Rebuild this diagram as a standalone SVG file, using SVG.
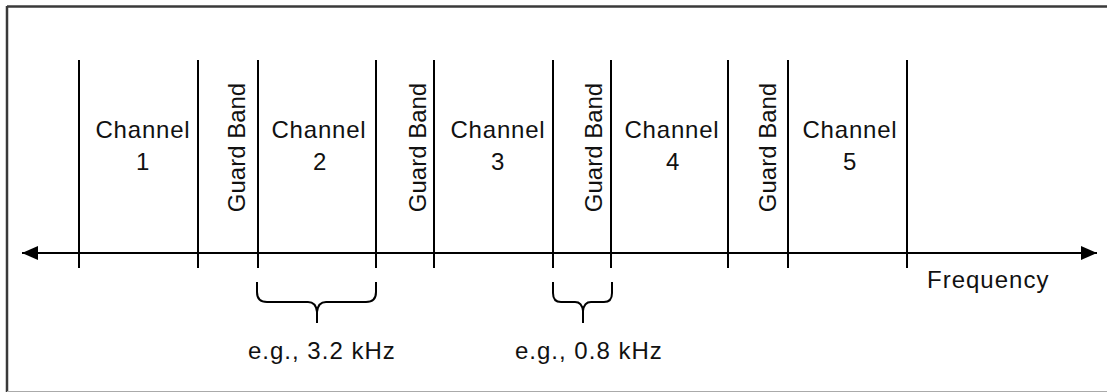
<svg xmlns="http://www.w3.org/2000/svg" width="1107" height="392" viewBox="0 0 1107 392">
<defs>
<style>
.ln{stroke:#000;stroke-width:2;fill:none}
.t{font-family:"Liberation Sans",Arial,sans-serif;font-size:24px;fill:#111}
.ch{text-anchor:middle;letter-spacing:0.8px}
.gb{text-anchor:middle}
.lab{letter-spacing:1px}
</style>
<marker id="ah" viewBox="0 0 16 14" refX="16" refY="7" markerWidth="16" markerHeight="14" markerUnits="userSpaceOnUse" orient="auto-start-reverse">
<path d="M0,0 L16,7 L0,14 Z" fill="#000"/>
</marker>
</defs>
<rect x="0" y="0" width="1107" height="392" fill="#fff"/>
<g id="frame">
<line x1="7" y1="6.5" x2="1107" y2="6.5" stroke="#3a3a3a" stroke-width="2.5"/>
<line x1="7" y1="6" x2="7" y2="392" stroke="#3a3a3a" stroke-width="2.5"/>
<line x1="7" y1="391.5" x2="1107" y2="391.5" stroke="#aaa" stroke-width="1"/>
</g>
<g id="connectors">
<line id="axis" class="ln" x1="22" y1="253" x2="1097" y2="253" marker-start="url(#ah)" marker-end="url(#ah)"/>
<g id="ticks">
<line class="ln" x1="79" y1="60" x2="79" y2="268"/>
<line class="ln" x1="198" y1="60" x2="198" y2="268"/>
<line class="ln" x1="258" y1="60" x2="258" y2="268"/>
<line class="ln" x1="376" y1="60" x2="376" y2="268"/>
<line class="ln" x1="434" y1="60" x2="434" y2="268"/>
<line class="ln" x1="553" y1="60" x2="553" y2="268"/>
<line class="ln" x1="611" y1="60" x2="611" y2="268"/>
<line class="ln" x1="728" y1="60" x2="728" y2="268"/>
<line class="ln" x1="788" y1="60" x2="788" y2="268"/>
<line class="ln" x1="907" y1="60" x2="907" y2="268"/>
</g>
<path id="brace1" class="ln" d="M257,282 L257,292 Q257,302 267,302 L308,302 Q316,302 317,312 L317,323 M317,312 Q318,302 326,302 L366,302 Q376,302 376,292 L376,282"/>
<path id="brace2" class="ln" d="M553,282 L553,293 Q553,302 561,302 L575,302 Q582,302 583,311 L583,323 M583,311 Q584,302 591,302 L604,302 Q612,302 612,293 L612,282"/>
</g>
<g id="ch1"><text class="t ch" x="143" y="138">Channel</text><text class="t ch" x="143" y="170">1</text></g>
<g id="gb1"><text class="t gb" transform="translate(245,147.5) rotate(-90)">Guard Band</text></g>
<g id="ch2"><text class="t ch" x="319" y="138">Channel</text><text class="t ch" x="320" y="170">2</text></g>
<g id="gb2"><text class="t gb" transform="translate(426,147.5) rotate(-90)">Guard Band</text></g>
<g id="ch3"><text class="t ch" x="498" y="138">Channel</text><text class="t ch" x="498" y="170">3</text></g>
<g id="gb3"><text class="t gb" transform="translate(602,147.5) rotate(-90)">Guard Band</text></g>
<g id="ch4"><text class="t ch" x="672" y="138">Channel</text><text class="t ch" x="673" y="170">4</text></g>
<g id="gb4"><text class="t gb" transform="translate(776,147.5) rotate(-90)">Guard Band</text></g>
<g id="ch5"><text class="t ch" x="850" y="138">Channel</text><text class="t ch" x="850" y="170">5</text></g>
<g id="freq"><text class="t lab" x="927" y="288">Frequency</text></g>
<g id="lab1"><text class="t lab" x="248" y="359">e.g., 3.2 kHz</text></g>
<g id="lab2"><text class="t lab" x="515" y="359">e.g., 0.8 kHz</text></g>
</svg>
